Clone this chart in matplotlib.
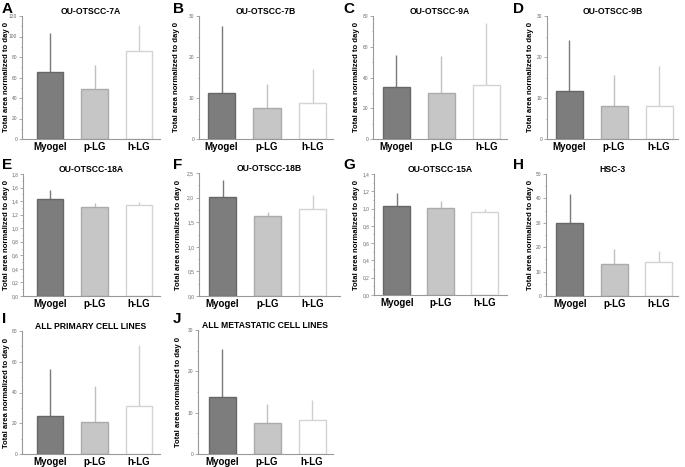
import numpy as np
import matplotlib
matplotlib.use("Agg")
import matplotlib.pyplot as plt
from matplotlib.ticker import MultipleLocator, FuncFormatter, AutoMinorLocator

groups = ["Myogel", "p-LG", "h-LG"]
letters = ["A", "B", "C", "D", "E", "F", "G", "H", "I", "J"]
titles = ["OU-OTSCC-7A", "OU-OTSCC-7B", "OU-OTSCC-9A", "OU-OTSCC-9B",
          "OU-OTSCC-18A", "OU-OTSCC-18B", "OU-OTSCC-15A", "HSC-3",
          "ALL PRIMARY CELL LINES", "ALL METASTATIC CELL LINES"]

# bar means and upper error (top of whisker)
means = [[65, 49, 86], [11.3, 7.5, 8.9], [33.5, 30, 35], [11.8, 8, 8],
         [1.43, 1.31, 1.35], [2.01, 1.63, 1.77], [1.03, 1.01, 0.96],
         [30, 13, 14], [25, 20.5, 31], [13.8, 7.5, 8.2]]
tops = [[103, 72, 111], [27.6, 13.3, 17.1], [54.5, 54, 75.5], [24.1, 15.5, 17.8],
        [1.57, 1.37, 1.39], [2.36, 1.71, 2.06], [1.18, 1.09, 1.00],
        [42, 19.3, 18.5], [55.5, 44, 71], [25.4, 12.1, 13.1]]
ymax = [120, 30, 80, 30, 1.8, 2.5, 1.4, 50, 80, 30]
ystep = [20, 10, 20, 10, 0.2, 0.5, 0.2, 10, 20, 10]

# pixel layout: axis left, axis right, top, bottom, first bar centre, spacing
layout = [(22, 160, 16, 139, 50, 44.5), (199, 333, 16, 139, 221.5, 45.5),
          (373, 507, 16, 139, 396.3, 45), (547, 678, 16, 139, 569, 45),
          (23, 160, 174, 296, 50, 44.5), (199, 340, 173, 296, 222.5, 45),
          (374, 507, 174, 295, 396.7, 44), (546, 678, 174, 296, 569.7, 44.5),
          (22, 160, 331, 454, 50, 44.5), (198, 333, 330, 454, 222, 45)]
label_x = [6.5, 177, 357, 530, 6.5, 178, 357, 530, 6.5, 178]
letter_xy = [(2, 9), (173, 9), (343, 9), (513, 9),
             (2, 165), (173, 165), (343, 165), (513, 165),
             (2, 319), (173, 319)]

face = ["#7d7d7d", "#c6c6c6", "#ffffff"]
edge = ["#676767", "#ababab", "#d4d4d4"]
errc = ["#7a7a7a", "#c0c0c0", "#cfcfcf"]

W, H = 685, 467
fig = plt.figure(figsize=(W / 100, H / 100), dpi=100)
plt.rcParams["font.family"] = ["Liberation Sans", "DejaVu Sans"]

for i in range(10):
    l, r, t, b, c0, sp = layout[i]
    ax = fig.add_axes([l / W, 1 - b / H, (r - l) / W, (b - t) / H])
    x = np.arange(3)
    m = np.array(means[i])
    e = np.array(tops[i]) - m
    for k in range(3):
        ax.bar(x[k], m[k], width=0.6, color=face[k], edgecolor=edge[k], linewidth=1.0, zorder=2)
        ax.errorbar(x[k], m[k], yerr=[[0], [e[k]]], fmt="none", ecolor=errc[k],
                    elinewidth=1.0, capsize=0, zorder=1)
    x0 = -(c0 - l) / sp
    ax.set_xlim(x0, x0 + (r - l) / sp)
    ax.set_ylim(0, ymax[i])
    ax.yaxis.set_major_locator(MultipleLocator(ystep[i]))
    ax.yaxis.set_minor_locator(AutoMinorLocator(2))
    dec = ystep[i] < 1
    ax.yaxis.set_major_formatter(FuncFormatter(
        lambda v, p, d=dec: (f"{v:.1f}".replace(".", ",") if d else f"{v:.0f}")))
    ax.set_xticks(x)
    ax.set_xticklabels(groups, fontsize=7, fontweight="bold")
    ax.tick_params(axis="x", length=0, pad=2)
    ax.tick_params(axis="y", which="major", labelsize=3.5, length=2, width=0.5,
                   colors="#888888", labelcolor="#666666", pad=1.5)
    ax.tick_params(axis="y", which="minor", length=1, width=0.5, colors="#888888")
    for s in ["top", "right"]:
        ax.spines[s].set_visible(False)
    for s in ["left", "bottom"]:
        ax.spines[s].set_color("#999999")
        ax.spines[s].set_linewidth(0.8)
    ax.set_ylabel("Total area normalized to day 0", fontsize=5.6, fontweight="bold")
    ax.yaxis.set_label_coords((label_x[i] + 3.5 - l) / (r - l), 0.5)
    ax.set_title(titles[i], fontsize=6.2, fontweight="bold", pad=-1)
    lx, ly = letter_xy[i]
    fig.text(lx / W, 1 - ly / H, letters[i], fontsize=11, fontweight="bold",
             ha="left", va="center")

fig.savefig("out.png", dpi=100)
